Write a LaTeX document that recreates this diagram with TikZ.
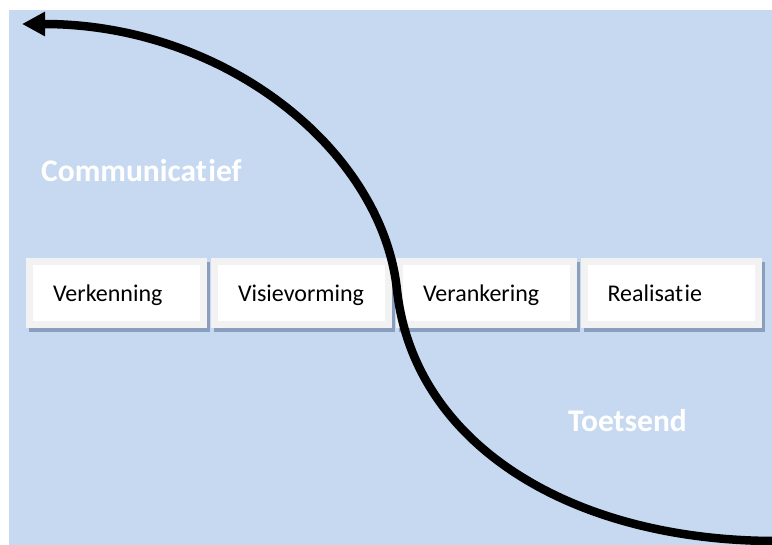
\documentclass[tikz,border=0pt]{standalone}
\usepackage{fontspec}
\setmainfont[Ligatures={NoCommon,NoRare,NoContextual}]{Carlito}
\usetikzlibrary{arrows.meta,shadows}

\definecolor{panelblue}{HTML}{C6D9F1}
\definecolor{framegray}{HTML}{F2F2F2}
\definecolor{shadowblue}{HTML}{8A9FBD}

% a little air between "t" and "i"
\newcommand{\tigap}{\kern1.5pt}

\tikzset{
  stagebox/.style={
    draw=framegray, line width=7pt, fill=white,
    minimum width=174pt, minimum height=63pt,
    inner xsep=23.5pt, inner ysep=0pt,
    text width=127pt, align=left,
    text height=20pt, text depth=3.6pt,
    font=\fontsize{24}{28}\selectfont,
    drop shadow={draw=shadowblue, fill=shadowblue, line width=7pt,
                 opacity=1, shadow xshift=3pt, shadow yshift=-3.5pt}
  },
  phaselabel/.style={
    anchor=base west, inner sep=0pt, text=white,
    font=\fontsize{31.5}{36}\selectfont\bfseries
  },
  sweep/.style={
    draw=black, line width=8.5pt,
    -{Triangle[length=23pt,width=23pt]}
  }
}

\begin{document}
\begin{tikzpicture}[x=1pt, y=-1pt]
  \useasboundingbox (0,0) rectangle (772,545);

  % panel
  \fill[panelblue] (9,10) rectangle (772,545);

  % stages
  \node[stagebox] (verkenning)   at (116.5,293.5) {Verkenning};
  \node[stagebox] (visie)        at (301.5,293.5) {Visievorming};
  \node[stagebox] (verankering)  at (486.5,293.5) {Verankering};
  \node[stagebox] (realisatie)   at (671,293.5)   {Realisat\tigap ie};

  % side labels
  \node[phaselabel] (comm)  at (41,181.7)  {Communicat\tigap ief};
  \node[phaselabel] (toets) at (568,431.7) {Toetsend};

  % S-shaped sweep from lower right to upper left
  \coordinate (sweepstart) at (776,541);
  \coordinate (sweepmid)   at (397,290);
  \coordinate (sweeptip)   at (22,24);
  \draw[sweep] (sweepstart) .. controls (572,541) and (414,445) .. (sweepmid)
               .. controls (382,150) and (225,24) .. (sweeptip);
\end{tikzpicture}
\end{document}
